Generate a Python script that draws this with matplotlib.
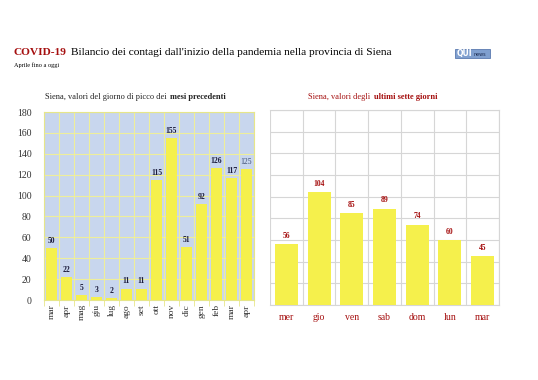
import matplotlib.pyplot as plt
from matplotlib.offsetbox import TextArea, HPacker, AnchoredOffsetbox
from matplotlib.patches import Rectangle

plt.rcParams['font.family'] = ['Liberation Serif', 'DejaVu Serif']

# peak day of previous months
months = ["mar", "apr", "mag", "giu", "lug", "ago", "set",
          "ott", "nov", "dic", "gen", "feb", "mar", "apr"]
month_peaks = [50, 22, 5, 3, 2, 11, 11, 115, 155, 51, 92, 126, 117, 125]

# last seven days
days = ["mer", "gio", "ven", "sab", "dom", "lun", "mar"]
day_values = [56, 104, 85, 89, 74, 60, 45]

DARKRED = "#a50f0f"
YELLOW = "#f5f04c"
NAVY = "#1c1c3c"

fig = plt.figure(figsize=(5.38, 3.80), dpi=100)


def mixed_text(parts, x, y, loc, size, sep=2.5):
    boxes = [TextArea(s, textprops=dict(size=size, color=c, weight=w))
             for s, w, c in parts]
    pack = HPacker(children=boxes, align="baseline", pad=0, sep=sep)
    ab = AnchoredOffsetbox(loc=loc, child=pack, bbox_to_anchor=(x, y),
                           bbox_transform=fig.transFigure, frameon=False,
                           pad=0, borderpad=0)
    fig.add_artist(ab)


# header
mixed_text([("COVID-19", "bold", DARKRED),
            ("Bilancio dei contagi dall'inizio della pandemia nella provincia di Siena",
             "normal", "black")],
           14 / 538, 1 - 57 / 380, "lower left", 8.2, sep=3)
fig.text(14 / 538, 1 - 67 / 380, "Aprile fino a oggi", size=4.5, va="baseline")

# small logo
fig.add_artist(Rectangle((455 / 538, 1 - 58 / 380), 35 / 538, 9 / 380,
                         transform=fig.transFigure, facecolor="#7f9fcf",
                         edgecolor="#5a7ab0", lw=0.6))
fig.text(456.5 / 538, 1 - 56 / 380, "QUI", size=5.5, weight="bold", color="white",
         family="DejaVu Sans", va="baseline")
fig.text(473 / 538, 1 - 56 / 380, "news", size=3.5, color="#1a2a50",
         family="DejaVu Sans", va="baseline")

# left panel
ax1 = fig.add_axes([44 / 538, 1 - 300 / 380, 210 / 538, 188 / 380])
ax1.set_facecolor("#c8d6ee")
x1 = range(len(months))
ax1.bar(x1, month_peaks, width=0.74, color=YELLOW, zorder=3)
ax1.set_xlim(-0.5, len(months) - 0.5)
ax1.set_ylim(0, 180)
ax1.set_yticks(range(0, 181, 20))
ax1.set_xticks(x1)
ax1.set_xticklabels(months, rotation=90, size=6.8, color="#333333")
ax1.set_xticks([i + 0.5 for i in range(-1, len(months))], minor=True)
ax1.tick_params(axis="y", labelsize=7, colors="#333333", length=0, pad=9)
ax1.tick_params(axis="x", which="major", length=0, pad=3)
ax1.tick_params(axis="x", which="minor", length=4, color="#e6e68a")
ax1.grid(axis="y", color="#eeee9a", lw=0.8, zorder=1)
ax1.grid(axis="x", which="minor", color="#eeee9a", lw=0.8, zorder=1)
for s in ax1.spines.values():
    s.set_color("#e6e68a")
for i, v in enumerate(month_peaks):
    last = i == len(month_peaks) - 1
    ax1.text(i, v + 3, str(v), ha="center", va="bottom", size=5.5,
             weight="normal" if last else "bold",
             color="#3a4a70" if last else NAVY, zorder=4)
mixed_text([("Siena, valori del giorno di picco dei", "normal", "#222222"),
            ("mesi precedenti", "bold", "#222222")],
           135 / 538, 1 - 97 / 380, "center", 6)

# right panel
ax2 = fig.add_axes([270 / 538, 1 - 305 / 380, 229 / 538, 195 / 380])
x2 = range(len(days))
ax2.bar(x2, day_values, width=0.7, color=YELLOW, zorder=3)
ax2.set_xlim(-0.5, len(days) - 0.5)
ax2.set_ylim(0, 180)
ax2.set_yticks(range(0, 181, 20))
ax2.set_yticklabels([])
ax2.set_xticks(x2)
ax2.set_xticklabels(days, size=7, color=DARKRED)
ax2.set_xticks([i + 0.5 for i in range(-1, len(days))], minor=True)
ax2.tick_params(axis="both", which="both", length=0)
ax2.tick_params(axis="x", pad=6)
ax2.grid(axis="y", color="#d6d6d6", lw=0.8, zorder=1)
ax2.grid(axis="x", which="minor", color="#d6d6d6", lw=0.8, zorder=1)
for s in ax2.spines.values():
    s.set_color("#d6d6d6")
ax2.spines["left"].set_visible(False)
for i, v in enumerate(day_values):
    ax2.text(i, v + 4, str(v), ha="center", va="bottom", size=5.5,
             weight="bold", color=DARKRED, zorder=4)
mixed_text([("Siena, valori degli", "normal", DARKRED),
            ("ultimi sette giorni", "bold", DARKRED)],
           373 / 538, 1 - 97 / 380, "center", 6)

fig.savefig("out.png", dpi=100)
